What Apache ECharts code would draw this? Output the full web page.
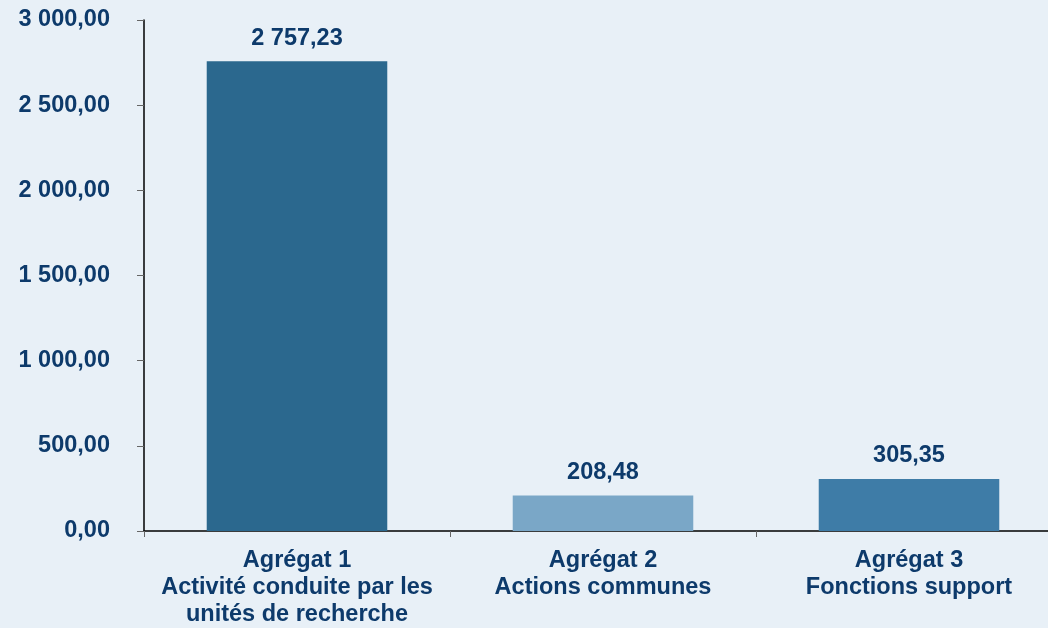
<!DOCTYPE html>
<html>
<head>
<meta charset="utf-8">
<script src="https://cdn.jsdelivr.net/npm/echarts@6/dist/echarts.min.js"></script>
<style>
  html, body { margin: 0; padding: 0; background: #e8f0f7; overflow: hidden; }
  #chart { width: 1062px; height: 628px; }
</style>
</head>
<body>
<div id="chart"></div>
<script>
const categories = [
  "Agrégat 1\nActivité conduite par les\nunités de recherche",
  "Agrégat 2\nActions communes",
  "Agrégat 3\nFonctions support"
];
const values = [2757.23, 208.48, 305.35];
const bar_colors = ["#2b688e", "#7aa7c7", "#3e7ca7"];

const text_color = "#0d3a6b";

function fmt(v) {
  const parts = Number(v).toFixed(2).split(".");
  const int_part = parts[0].replace(/\B(?=(\d{3})+(?!\d))/g, " ");
  return int_part + "," + parts[1];
}

let chart = echarts.init(document.getElementById("chart"));
chart.setOption({
  backgroundColor: "#e8f0f7",
  animation: false,
  textStyle: { fontFamily: "Liberation Sans, Arial, sans-serif" },
  grid: { left: 144, right: 0, top: 20, bottom: 97, containLabel: false },
  xAxis: {
    type: "category",
    data: categories,
    axisLine: { lineStyle: { color: "#000", width: 1.5 } },
    axisTick: { show: true, length: 6, lineStyle: { color: "#666" } },
    axisLabel: {
      color: text_color,
      fontSize: 23.5,
      fontWeight: "bold",
      lineHeight: 27,
      margin: 16,
      interval: 0
    }
  },
  yAxis: {
    type: "value",
    min: 0,
    max: 3000,
    interval: 500,
    axisLine: { show: true, lineStyle: { color: "#000", width: 1.5 } },
    axisTick: { show: true, length: 7, lineStyle: { color: "#666" } },
    splitLine: { show: false },
    axisLabel: {
      color: text_color,
      fontSize: 23.5,
      fontWeight: "bold",
      margin: 34,
      formatter: fmt
    }
  },
  series: [
    {
      type: "bar",
      barWidth: "59%",
      data: values.map((v, i) => ({ value: v, itemStyle: { color: bar_colors[i] } })),
      label: {
        show: true,
        position: "top",
        distance: 11,
        color: text_color,
        fontSize: 23.5,
        fontWeight: "bold",
        formatter: p => fmt(p.value)
      }
    }
  ]
});
</script>
</body>
</html>
